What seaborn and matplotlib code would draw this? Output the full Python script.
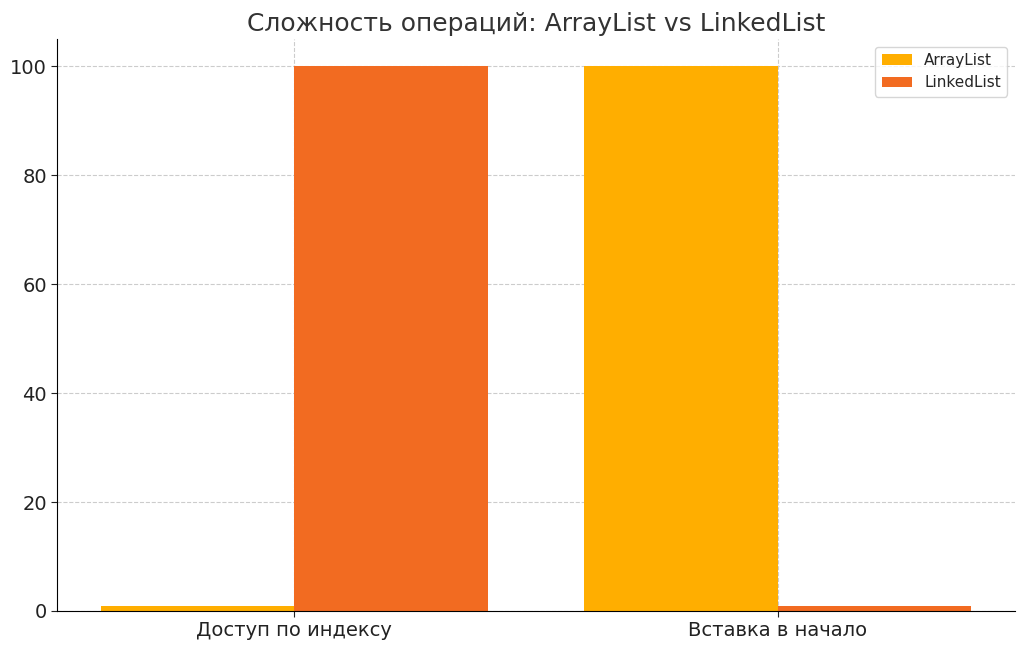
import matplotlib
matplotlib.use("Agg")
import matplotlib.pyplot as plt
import seaborn as sns
import pandas as pd

operations = ["Доступ по индексу", "Вставка в начало"]
arraylist = [1, 100]
linkedlist = [100, 1]
series = ["ArrayList", "LinkedList"]

df = pd.DataFrame({
    "op": operations * 2,
    "val": arraylist + linkedlist,
    "s": [series[0]] * 2 + [series[1]] * 2,
})

sns.set_style("white")
plt.rcParams['font.family'] = ['DejaVu Sans']
fig, ax = plt.subplots(figsize=(10.24, 6.5), dpi=100)
fig.subplots_adjust(left=0.056, right=0.991, top=0.94, bottom=0.06)
sns.barplot(data=df, x="op", y="val", hue="s", palette=["#FFAE00", "#F26B21"],
            width=0.8, saturation=1, ax=ax, edgecolor="none")
ax.set_xlim(-0.49, 1.49)
ax.set_ylim(0, 105)
ax.set_xlabel("")
ax.set_ylabel("")
ax.set_title("Сложность операций: ArrayList vs LinkedList", fontsize=18, color="#333333")
ax.grid(True, linestyle="--", color="#cccccc", linewidth=0.8)
ax.set_axisbelow(True)
for s in ["top", "right"]:
    ax.spines[s].set_visible(False)
for s in ["left", "bottom"]:
    ax.spines[s].set_color("black")
ax.tick_params(axis="both", labelsize=14, colors="#222222", left=True, bottom=True, length=4)
ax.legend(title=None, loc="upper right", fontsize=11, frameon=True)
fig.savefig("out.png")
